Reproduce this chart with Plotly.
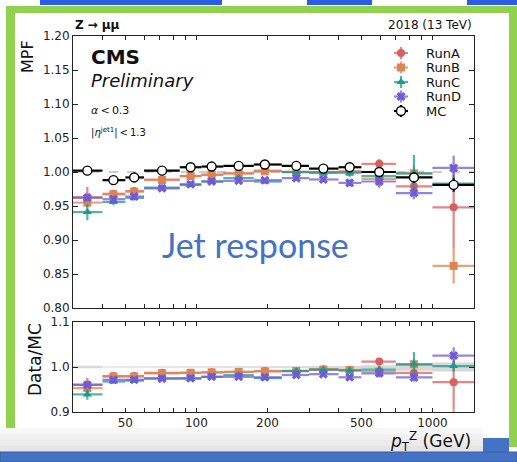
import numpy as np
import plotly.graph_objects as go

W, H = 517, 462

# pT^Z binning and mean pT^Z in each bin (GeV)
bin_edges = [30, 40, 50, 60, 85, 105, 130, 175, 230, 300, 400, 500, 700, 1000, 1500]
pt_mean = [34.5, 44.5, 54.5, 71.5, 94.5, 116, 151, 195, 265, 345, 446, 595, 835, 1230]

# MPF response, simulation
mpf_mc = [1.002, 0.988, 0.992, 1.002, 1.007, 1.008, 1.009, 1.011, 1.009, 1.005, 1.007, 1.000, 0.992, 0.981]
err_mc = [0.003, 0.001, 0.001, 0.001, 0.001, 0.001, 0.001, 0.001, 0.001, 0.002, 0.002, 0.004, 0.008, 0.010]

# MPF response, data per run period
mpf_runA = [0.963, 0.968, 0.972, 0.989, 0.994, 0.996, 0.998, 1.002, 1.000, 1.000, 1.001, 1.012, 0.979, 0.948]
mpf_runB = [0.955, 0.967, 0.971, 0.988, 0.994, 0.996, 0.998, 1.001, 1.000, 0.999, 1.000, 0.990, 0.998, 0.862]
mpf_runC = [0.941, 0.956, 0.962, 0.977, 0.981, 0.986, 0.991, 0.986, 1.000, 0.999, 0.999, 0.994, 0.998, 0.983]
mpf_runD = [0.962, 0.960, 0.964, 0.976, 0.982, 0.986, 0.987, 0.988, 0.991, 0.989, 0.984, 0.986, 0.969, 1.006]

err_runA = [0.015, 0.004, 0.004, 0.003, 0.003, 0.003, 0.003, 0.003, 0.004, 0.005, 0.006, 0.007, 0.008, 0.060]
err_runB = [0.006, 0.004, 0.004, 0.003, 0.003, 0.003, 0.003, 0.003, 0.004, 0.005, 0.006, 0.014, 0.012, 0.026]
err_runC = [0.012, 0.005, 0.004, 0.003, 0.003, 0.003, 0.003, 0.003, 0.005, 0.005, 0.006, 0.008, 0.027, 0.012]
err_runD = [0.005, 0.004, 0.003, 0.003, 0.003, 0.003, 0.003, 0.003, 0.004, 0.004, 0.005, 0.008, 0.009, 0.018]

run_names = ["RunA", "RunB", "RunC", "RunD"]
run_values = [mpf_runA, mpf_runB, mpf_runC, mpf_runD]
run_errors = [err_runA, err_runB, err_runC, err_runD]
run_colors = [(214, 95, 95), (221, 132, 82), (23, 156, 142), (111, 91, 214)]
run_symbols = ["circle", "square", "triangle-up", "x"]

main_yticks = [0.80, 0.85, 0.90, 0.95, 1.00, 1.05, 1.10, 1.15, 1.20]
ratio_yticks = [0.9, 1.0, 1.1]
x_ticks = [40, 50, 60, 70, 80, 90, 100, 200, 300, 400, 500, 600, 700, 800, 900, 1000]
x_labelled = [50, 100, 200, 500, 1000]

FONT = "DejaVu Sans"


def px(xp):
    return xp / W


def py(yp):
    return 1 - yp / H


def rgba(c, a):
    return "rgba(%d,%d,%d,%.2f)" % (c[0], c[1], c[2], a)


edges = np.array(bin_edges, dtype=float)
lo, hi = edges[:-1], edges[1:]
xm = np.array(pt_mean, dtype=float)
mc = np.array(mpf_mc)
emc = np.array(err_mc)

fig = go.Figure()

# MC statistical band in the ratio panel
bx = np.repeat(edges, 2)[1:-1]
up = np.repeat(1 + emc / mc, 2)
dn = np.repeat(1 - emc / mc, 2)
fig.add_trace(go.Scatter(
    x=np.concatenate([bx, bx[::-1]]).tolist(), y=np.concatenate([up, dn[::-1]]).tolist(),
    fill="toself", fillcolor="rgba(200,200,200,0.7)", line=dict(width=0),
    mode="lines", xaxis="x2", yaxis="y2", hoverinfo="skip"))

for name, vals, errs, col, sym in zip(run_names, run_values, run_errors, run_colors, run_symbols):
    v = np.array(vals)
    e = np.array(errs)
    for axx, axy, yy, ee in (("x", "y", v, e), ("x2", "y2", v / mc, e / mc)):
        fig.add_trace(go.Scatter(
            x=xm.tolist(), y=yy.tolist(), mode="markers", name=name, xaxis=axx, yaxis=axy,
            marker=dict(symbol=sym, size=8, color=rgba(col, 1), line=dict(width=0)),
            error_x=dict(type="data", symmetric=False, array=(hi - xm).tolist(),
                         arrayminus=(xm - lo).tolist(),
                         color=rgba(col, 0.75), thickness=2.2, width=0),
            error_y=dict(type="data", array=ee.tolist(), color=rgba(col, 0.75), thickness=2.2, width=0)))

fig.add_trace(go.Scatter(
    x=xm.tolist(), y=mc.tolist(), mode="markers", name="MC", xaxis="x", yaxis="y",
    marker=dict(symbol="circle", size=9, color="white", line=dict(color="black", width=1.4)),
    error_x=dict(type="data", symmetric=False, array=(hi - xm).tolist(), arrayminus=(xm - lo).tolist(),
                 color="black", thickness=2.2, width=0),
    error_y=dict(type="data", array=emc.tolist(), color="black", thickness=2, width=0)))

# legend keys, drawn on a pixel-space overlay
leg_x, leg_y0, leg_dy = 401, 53, 14.5
leg_names = run_names + ["MC"]
for i, name in enumerate(leg_names):
    yy = leg_y0 + i * leg_dy
    if i < 4:
        col = run_colors[i]
        mk = dict(symbol=run_symbols[i], size=8, color=rgba(col, 1), line=dict(width=0))
        ec = rgba(col, 0.75)
    else:
        mk = dict(symbol="circle", size=9, color="white", line=dict(color="black", width=1.4))
        ec = "black"
    fig.add_trace(go.Scatter(
        x=[leg_x], y=[yy], mode="markers", xaxis="x3", yaxis="y3", marker=mk,
        error_x=dict(type="constant", value=7, color=ec, thickness=2.2, width=0),
        error_y=dict(type="constant", value=6, color=ec, thickness=2.2, width=0)))
    fig.add_annotation(x=px(424), y=py(yy), xref="paper", yref="paper", text=name,
                       showarrow=False, xanchor="left", yanchor="middle",
                       font=dict(family=FONT, size=13, color="#111"))

xdom = [px(73), px(474)]
axis_common = dict(showline=True, linecolor="#222", linewidth=1, mirror="allticks",
                   ticks="inside", tickcolor="#222", showgrid=False, zeroline=False,
                   tickfont=dict(family=FONT, size=12, color="#222"))
xcommon = dict(type="log", range=[float(np.log10(bin_edges[0])), float(np.log10(bin_edges[-1]))],
               domain=xdom, tickmode="array", tickvals=x_ticks,
               ticktext=[str(v) if v in x_labelled else "" for v in x_ticks],
               ticklen=4, tickwidth=1, **axis_common)

fig.update_layout(
    width=W, height=H, margin=dict(l=0, r=0, t=0, b=0, autoexpand=False),
    paper_bgcolor="white", plot_bgcolor="rgba(0,0,0,0)", showlegend=False,
    xaxis=dict(anchor="y", showticklabels=False, **xcommon),
    xaxis2=dict(anchor="y2", showticklabels=True, **xcommon),
    yaxis=dict(anchor="x", domain=[py(308), py(36)], range=[0.8, 1.2],
               tickmode="array", tickvals=main_yticks, ticktext=["%.2f" % v for v in main_yticks],
               ticklen=5, **axis_common),
    yaxis2=dict(anchor="x2", domain=[py(412), py(322)], range=[0.9, 1.1],
                tickmode="array", tickvals=ratio_yticks, ticktext=["%.1f" % v for v in ratio_yticks],
                ticklen=5, **axis_common),
    xaxis3=dict(anchor="y3", domain=[0, 1], range=[0, W], visible=False, fixedrange=True),
    yaxis3=dict(anchor="x3", domain=[0, 1], range=[H, 0], visible=False, fixedrange=True),
)

shapes = []
# reference line at unity response
shapes.append(dict(type="line", xref="paper", yref="y", x0=xdom[0], x1=xdom[1], y0=1, y1=1,
                   line=dict(color="#999", width=1, dash="dash"), layer="below"))

# slide decoration: green frame, blue strokes and footer
green = "#92d050"
blue = "#4472c4"
for x0, x1 in ((40, 222), (307, 372), (467, 517)):
    shapes.append(dict(type="rect", xref="paper", yref="paper", x0=px(x0), x1=px(x1),
                       y0=py(5), y1=py(0), fillcolor="#2d5be3", line=dict(width=0), layer="below"))
shapes.append(dict(type="rect", xref="paper", yref="paper", x0=px(6), x1=px(517), y0=py(13), y1=py(6),
                   fillcolor=green, line=dict(width=0), layer="below"))
shapes.append(dict(type="rect", xref="paper", yref="paper", x0=px(6), x1=px(15), y0=py(447), y1=py(6),
                   fillcolor=green, line=dict(width=0), layer="below"))
shapes.append(dict(type="rect", xref="paper", yref="paper", x0=px(509), x1=px(517), y0=py(447), y1=py(6),
                   fillcolor=green, line=dict(width=0), layer="below"))
grays = ["#f7f7f7", "#f1f1f1", "#ebebeb", "#e5e5e5"]
for i, g in enumerate(grays):
    shapes.append(dict(type="rect", xref="paper", yref="paper", x0=px(0), x1=px(483),
                       y0=py(428 + 6 * (i + 1)), y1=py(428 + 6 * i), fillcolor=g,
                       line=dict(width=0), layer="below"))
shapes.append(dict(type="rect", xref="paper", yref="paper", x0=px(483), x1=px(509), y0=py(452), y1=py(438),
                   fillcolor=blue, line=dict(width=0), layer="below"))
shapes.append(dict(type="rect", xref="paper", yref="paper", x0=0, x1=1, y0=0, y1=py(452),
                   fillcolor=blue, line=dict(color="#3a5f9f", width=1), layer="below"))
fig.update_layout(shapes=shapes)


def note(x, y, text, size, xanchor="left", yanchor="middle", color="#111", family=FONT, angle=0):
    fig.add_annotation(x=px(x), y=py(y), xref="paper", yref="paper", text=text, showarrow=False,
                       xanchor=xanchor, yanchor=yanchor, textangle=angle,
                       font=dict(family=family, size=size, color=color))


note(73, 25, "<b>Z</b> <b>→ μμ</b>", 12)
note(474, 25, "2018 (13 TeV)", 12, xanchor="right")
note(89, 57, "<b>CMS</b>", 20)
note(89, 80, "<i>Preliminary</i>", 18)
note(89, 110, "<i>α</i>\u2009<\u20090.3", 11)
note(89, 132, "|<i>η</i><sup>jet1</sup>|\u2009<\u20091.3", 10)
note(28, 57, "MPF", 16, xanchor="center", angle=-90)
note(35, 360, "Data/MC", 17, xanchor="center", angle=-90)
note(473, 441, "<i>p</i><sub>T</sub><sup>Z</sup> (GeV)", 17, xanchor="right")
note(255, 244, "Jet response", 34, xanchor="center", color=blue, family="Lato")

fig.write_html("out.html")
